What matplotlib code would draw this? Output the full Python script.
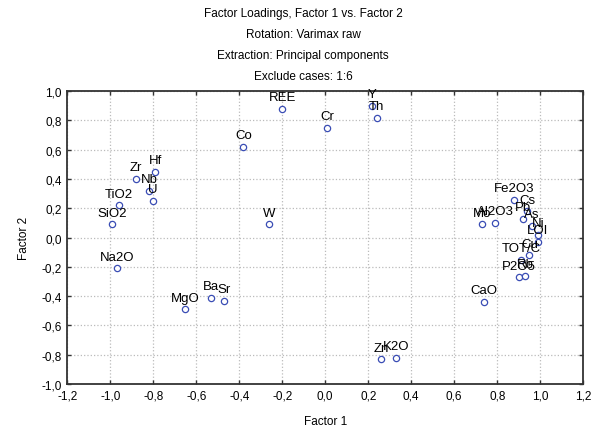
import matplotlib
matplotlib.use("Agg")
import matplotlib.pyplot as plt
import numpy as np

plt.rcParams['font.family'] = ['Liberation Sans', 'DejaVu Sans']

# factor loadings
names = ["SiO2", "TiO2", "Na2O", "Zr", "Hf", "Nb", "U", "MgO", "Ba", "Sr",
         "Co", "W", "REE", "Cr", "Y", "Th", "Zn", "K2O", "CaO",
         "Mo", "Al2O3", "Fe2O3", "Cs", "Pb", "As", "Ni", "LOI", "Cu",
         "TOT/C", "P2O5", "Rb"]
factor1 = [-0.99, -0.96, -0.97, -0.88, -0.79, -0.82, -0.80, -0.65, -0.53, -0.47,
           -0.38, -0.26, -0.20, 0.01, 0.22, 0.24, 0.26, 0.33, 0.74,
           0.73, 0.79, 0.88, 0.94, 0.92, 0.96, 0.99, 0.99, 0.95,
           0.91, 0.90, 0.93]
factor2 = [0.09, 0.22, -0.21, 0.40, 0.45, 0.32, 0.25, -0.49, -0.41, -0.43,
           0.62, 0.09, 0.88, 0.75, 0.90, 0.82, -0.83, -0.82, -0.44,
           0.09, 0.10, 0.26, 0.18, 0.13, 0.08, 0.02, -0.03, -0.12,
           -0.15, -0.27, -0.26]

title_lines = ["Factor Loadings, Factor 1 vs. Factor 2",
               "Rotation: Varimax raw",
               "Extraction: Principal components",
               "Exclude cases: 1:6"]

ticks = np.round(np.arange(-1.2, 1.21, 0.2), 1)
yticks = np.round(np.arange(-1.0, 1.01, 0.2), 1)

def comma(v):
    s = "%.1f" % v
    if s == "-0.0":
        s = "0.0"
    return s.replace(".", ",")

fig = plt.figure(figsize=(6.0, 4.39), dpi=100)
ax = fig.add_axes([0.112, 0.123, 0.86, 0.667])

ax.plot(factor1, factor2, linestyle="none", marker="o", markersize=4.5,
        markerfacecolor="white", markeredgecolor="#3a4db5", markeredgewidth=0.9,
        zorder=3)

for n, x, y in zip(names, factor1, factor2):
    ax.annotate(n, (x, y), xytext=(0, 4), textcoords="offset points",
                ha="center", va="bottom", fontsize=9.5, color="black",
                zorder=4, annotation_clip=False)

ax.set_xlim(-1.2, 1.2)
ax.set_ylim(-1.0, 1.0)
ax.set_xticks(ticks)
ax.set_yticks(yticks)
ax.set_xticklabels([comma(t) for t in ticks], fontsize=8.5)
ax.set_yticklabels([comma(t) for t in yticks], fontsize=8.5)
ax.tick_params(direction="in", length=3, width=1, top=True, right=True,
               color="#333333", pad=4)
ax.grid(True, linestyle=":", color="#bbbbbb", linewidth=0.9)
ax.set_axisbelow(True)
for sp in ax.spines.values():
    sp.set_linewidth(1.3)
    sp.set_color("#333333")

ax.set_xlabel("Factor 1", fontsize=8.5, labelpad=10)
ax.set_ylabel("Factor 2", fontsize=8.5, labelpad=8)

for i, line in enumerate(title_lines):
    fig.text(0.505, 1 - (14 + 21 * i) / 439, line, ha="center", va="center",
             fontsize=8.5)

fig.savefig("out.png", dpi=100)
